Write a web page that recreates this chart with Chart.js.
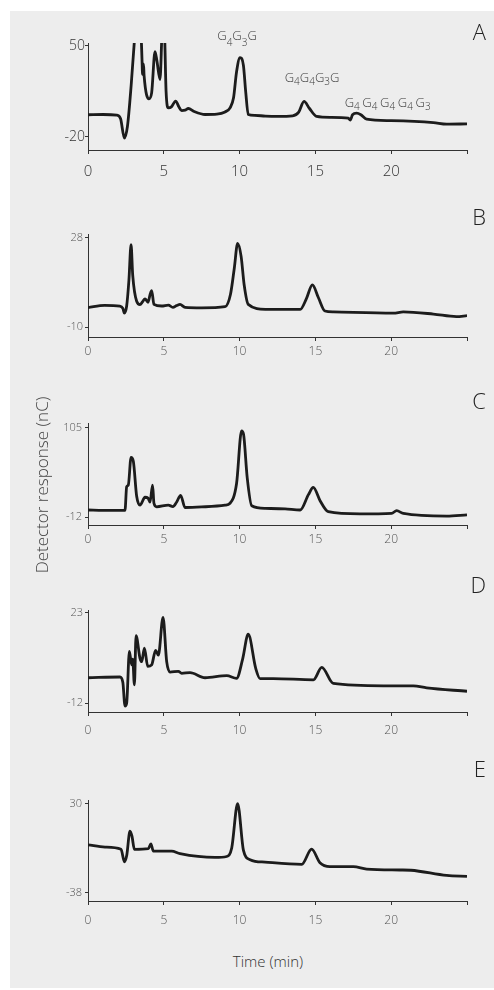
<!DOCTYPE html>
<html>
<head>
<meta charset="utf-8">
<script src="https://cdn.jsdelivr.net/npm/chart.js@4"></script>
<style>
  body { margin: 0; background: #fff; }
  #pagina { position: relative; width: 494px; height: 990px; overflow: hidden; font-family: 'Open Sans', 'Liberation Sans', sans-serif; }
  #fundo { position: absolute; left: 10px; top: 11px; width: 484px; height: 977px; background: #ededed; }
  canvas { position: absolute; left: 0; }
  .letra { position: absolute; right: 8px; font-size: 22px; line-height: 22px; font-weight: 300; color: #222; }
  #tituloY { position: absolute; left: -108px; top: 475px; width: 300px; height: 20px; line-height: 20px; text-align: center; font-size: 17px; font-weight: 300; color: #444; transform: rotate(-90deg); }
  #tituloX { position: absolute; left: 168px; top: 951px; width: 200px; text-align: center; font-size: 15px; line-height: 20px; font-weight: 300; color: #333; }
</style>
</head>
<body>
<div id="pagina">
  <div id="fundo"></div>
  <canvas id="painelA" width="494" height="179" style="top:11px"></canvas>
  <canvas id="painelB" width="494" height="141" style="top:226px"></canvas>
  <canvas id="painelC" width="494" height="141" style="top:414px"></canvas>
  <canvas id="painelD" width="494" height="145" style="top:602px"></canvas>
  <canvas id="painelE" width="494" height="145" style="top:791px"></canvas>
  <div class="letra" style="top:20px">A</div>
  <div class="letra" style="top:205px">B</div>
  <div class="letra" style="top:389px">C</div>
  <div class="letra" style="top:573px">D</div>
  <div class="letra" style="top:757px">E</div>
  <div id="tituloY">Detector response (nC)</div>
  <div id="tituloX">Time (min)</div>
</div>
<script>
// ========== Dados ==========

const ticksX = [0, 5, 10, 15, 20, 25];

// Painel A
const tempoA = [0, 1.0, 1.9, 2.15, 2.4, 2.6, 2.85, 3.1, 3.3, 3.5, 3.56, 3.6, 3.66, 3.7, 4.02, 4.2, 4.42, 4.55, 4.75, 4.88, 4.95, 5.05, 5.15, 5.3, 5.5, 5.78, 6.0, 6.18, 6.4, 6.62, 7.0, 7.72, 8.5, 9.04, 9.37, 9.6, 9.8, 10.03, 10.25, 10.4, 10.57, 11.0, 11.7, 12.5, 13.5, 13.9, 14.25, 14.6, 15.08, 16, 17.17, 17.3, 17.45, 17.72, 18.0, 18.38, 20, 22.78, 23.66, 25];
const sinalA = [-3, -2.8, -3.2, -6, -20.8, -12, 20, 60, 100, 60, 40, 28, 36, 27, 9.2, 14, 45.4, 38, 24, 60, 75, 60, 15, 2.3, 3, 7.5, 3, 0.2, 0.5, 1.8, -0.5, -2.8, -2.5, -0.8, 2.3, 10, 30, 40.8, 35, 15, -2.8, -3.5, -4, -4.2, -3.8, -1, 7.2, 2, -4.3, -5, -5.6, -7, -3, -1.8, -3, -6.4, -7.5, -9, -10.2, -10];
const ticksYA = [-20, 50];

// Painel B
const tempoB = [0, 1.1, 2.1, 2.3, 2.4, 2.55, 2.7, 2.84, 2.95, 3.21, 3.43, 3.6, 3.76, 3.96, 4.1, 4.2, 4.35, 4.86, 5.3, 5.6, 5.85, 6.07, 6.4, 7.5, 9.04, 9.4, 9.65, 9.87, 10.1, 10.3, 10.57, 11.7, 14.0, 14.4, 14.8, 15.2, 15.63, 16.2, 20.14, 20.8, 22.78, 24.3, 25];
const sinalB = [-1.7, -0.7, -1.0, -2, -4, -1, 10, 24.9, 12, 1.0, -0.4, 0.8, 2.0, 0.6, 4, 5.5, -0.3, -1.0, -0.6, -1.6, -0.8, -0.3, -1.6, -1.8, -1.3, 4, 15, 25.5, 20, 8, -0.3, -2.4, -2.4, 2, 7.9, 2.5, -3.1, -3.5, -4.0, -3.5, -4.4, -5.5, -5.1];
const ticksYB = [-10, 28];

// Painel C
const tempoC = [0, 1, 2.44, 2.55, 2.66, 2.84, 2.99, 3.21, 3.43, 3.76, 3.96, 4.09, 4.26, 4.35, 4.53, 5.3, 5.6, 5.85, 6.11, 6.4, 7.5, 9.04, 9.37, 9.8, 10.13, 10.26, 10.5, 10.8, 11.7, 13, 14.0, 14.54, 14.86, 15.3, 15.85, 17.94, 20.03, 20.36, 20.8, 23.66, 25];
const sinalC = [-2.5, -3, -3, 27.8, 30, 66, 61, 15.4, 3.8, 14.1, 13, 7.9, 30, 6.3, 1.7, 3.8, 2.0, 8, 16.6, 0.8, 1.5, 3.8, 6.3, 32, 100.4, 96, 40, 3, -0.4, -1, -2.5, 17.5, 27, 10, -4.6, -7.5, -6.8, -3.3, -7, -10.4, -8.7];
const ticksYC = [-12, 105];

// Painel D
const tempoD = [0, 2.11, 2.3, 2.44, 2.55, 2.73, 2.88, 2.95, 3.06, 3.17, 3.43, 3.54, 3.72, 3.94, 4.2, 4.46, 4.64, 4.95, 5.19, 5.41, 5.96, 6.18, 6.73, 7.72, 9.15, 9.8, 10.2, 10.57, 11.06, 11.35, 12.22, 14.87, 15.42, 16.18, 19.48, 21.46, 22.34, 25];
const sinalD = [-2.2, -1.9, -4, -13.1, -12, 8.0, 2.8, 5, -4.9, 14, 5.3, 4, 9.2, 2.2, 2.8, 8.4, 6.5, 21.1, 4.0, 0, 0.3, -0.5, -0.2, -2.2, -1.4, -2.4, 5, 14.6, 1.5, -2.5, -2.5, -3, 1.8, -4.4, -5.3, -5.3, -6.1, -7.4];
const ticksYD = [-12, 23];

// Painel E
const tempoE = [0, 1.12, 2.18, 2.4, 2.55, 2.77, 2.9, 3.06, 3.98, 4.15, 4.31, 5.52, 6.07, 8.38, 9.15, 9.48, 9.87, 10.25, 10.69, 11.68, 14.1, 14.75, 15.3, 15.96, 17.5, 18.38, 20.58, 21.3, 23.66, 25];
const sinalE = [-1.6, -3.3, -5, -14.6, -10, 8.8, 5, -5, -4.5, -0.9, -6.4, -6.4, -8.3, -11.2, -10.5, -4, 29.8, -5.6, -12.9, -14.8, -16.5, -4.9, -15.3, -18.2, -18.2, -20.1, -20.8, -21, -25, -25.7];
const ticksYE = [-38, 30];

// Rótulos dos picos no painel A
const nomesPicos = [
  [['G', 0], ['4', 1], ['G', 0], ['3', 1], ['G', 0]],
  [['G', 0], ['4', 1], ['G', 0], ['4', 1], ['G', 0], ['3', 1], ['G', 0]],
  [['G', 0], ['4', 1], [' ', 1], ['G', 0], ['4', 1], [' ', 1], ['G', 0], ['4', 1], [' ', 1], ['G', 0], ['4', 1], [' ', 1], ['G', 0], ['3', 1]]
];
const temposPicos = [10.03, 14.25, 17.72];

// ========== Desenho ==========

const FONTE = "'Open Sans', 'Liberation Sans', sans-serif";

// Escreve um nome com subscritos centrado em x
function escreverNome(ctx, partes, x, y, desceSub) {
  let total = 0;
  partes.forEach(p => {
    ctx.font = (p[1] ? '300 10px ' : '300 13px ') + FONTE;
    total += ctx.measureText(p[0]).width;
  });
  let cx = x - total / 2;
  partes.forEach(p => {
    ctx.font = (p[1] ? '300 10px ' : '300 13px ') + FONTE;
    ctx.fillText(p[0], cx, p[1] ? y + desceSub : y);
    cx += ctx.measureText(p[0]).width;
  });
}

const rotulosPicos = {
  id: 'rotulosPicos',
  afterDatasetsDraw(chart) {
    const ctx = chart.ctx;
    const sx = chart.scales.x;
    const sy = chart.scales.y;
    const ajustes = [[-3, -18, 6], [8, -19, 3], [31, -6, 3]];
    ctx.save();
    ctx.fillStyle = '#3a3a3a';
    ctx.textBaseline = 'alphabetic';
    temposPicos.forEach((t, i) => {
      const idx = tempoA.indexOf(t);
      const x = sx.getPixelForValue(t) + ajustes[i][0];
      const y = sy.getPixelForValue(sinalA[idx]) + ajustes[i][1];
      escreverNome(ctx, nomesPicos[i], x, y, ajustes[i][2]);
    });
    ctx.restore();
  }
};

function criarPainel(id, tempos, sinais, ticksY, yMin, yMax, cfg) {
  const ctx = document.getElementById(id);
  return new Chart(ctx, {
    type: 'line',
    data: {
      datasets: [{
        data: tempos.map((t, i) => ({ x: t, y: sinais[i] })),
        borderColor: '#1c1c1c',
        borderWidth: 2.8,
        pointRadius: 0,
        cubicInterpolationMode: 'monotone',
        fill: false
      }]
    },
    options: {
      responsive: false,
      animation: false,
      events: [],
      devicePixelRatio: 1,
      layout: { padding: { left: 0, right: 27, top: cfg.topo, bottom: 0 } },
      plugins: { legend: { display: false }, tooltip: { enabled: false } },
      scales: {
        x: {
          type: 'linear',
          min: 0,
          max: 25,
          afterBuildTicks: s => { s.ticks = ticksX.map(v => ({ value: v })); },
          afterFit: s => { s.height = cfg.alturaX; },
          border: { display: true, color: '#333', width: 1 },
          grid: { display: true, drawOnChartArea: false, drawTicks: true, tickLength: 4, color: '#333' },
          ticks: {
            autoSkip: false,
            maxRotation: 0,
            padding: cfg.padX,
            color: cfg.corX,
            font: { family: FONTE, size: cfg.fonteX, weight: '300' },
            callback: v => (v === 25 ? '' : String(v))
          }
        },
        y: {
          min: yMin,
          max: yMax,
          afterBuildTicks: s => { s.ticks = ticksY.map(v => ({ value: v })); },
          afterFit: s => { s.width = 88; },
          border: { display: true, color: '#333', width: 1 },
          grid: { display: true, drawOnChartArea: false, drawTicks: true, tickLength: 3, color: '#333' },
          ticks: {
            padding: cfg.padY,
            color: cfg.corY,
            font: { family: FONTE, size: cfg.fonteY, weight: '300' }
          }
        }
      }
    },
    plugins: cfg.plugins || []
  });
}

criarPainel('painelA', tempoA, sinalA, ticksYA, -30, 52, { topo: 32, alturaX: 40, padX: 9, padY: 0, fonteX: 15, fonteY: 14, corX: '#333', corY: '#333', plugins: [rotulosPicos] });
criarPainel('painelB', tempoB, sinalB, ticksYB, -14.1, 29.2, { topo: 5, alturaX: 30, padX: 3, padY: 2, fonteX: 12, fonteY: 11, corX: '#555', corY: '#555' });
criarPainel('painelC', tempoC, sinalC, ticksYC, -22, 110, { topo: 5, alturaX: 30, padX: 3, padY: 3, fonteX: 12, fonteY: 11, corX: '#555', corY: '#555' });
criarPainel('painelD', tempoD, sinalD, ticksYD, -15.4, 23.7, { topo: 5, alturaX: 35, padX: 7, padY: 2, fonteX: 12, fonteY: 11, corX: '#555', corY: '#555' });
criarPainel('painelE', tempoE, sinalE, ticksYE, -44.5, 32.2, { topo: 5, alturaX: 35, padX: 8, padY: 3, fonteX: 12, fonteY: 11, corX: '#555', corY: '#555' });
</script>
</body>
</html>
